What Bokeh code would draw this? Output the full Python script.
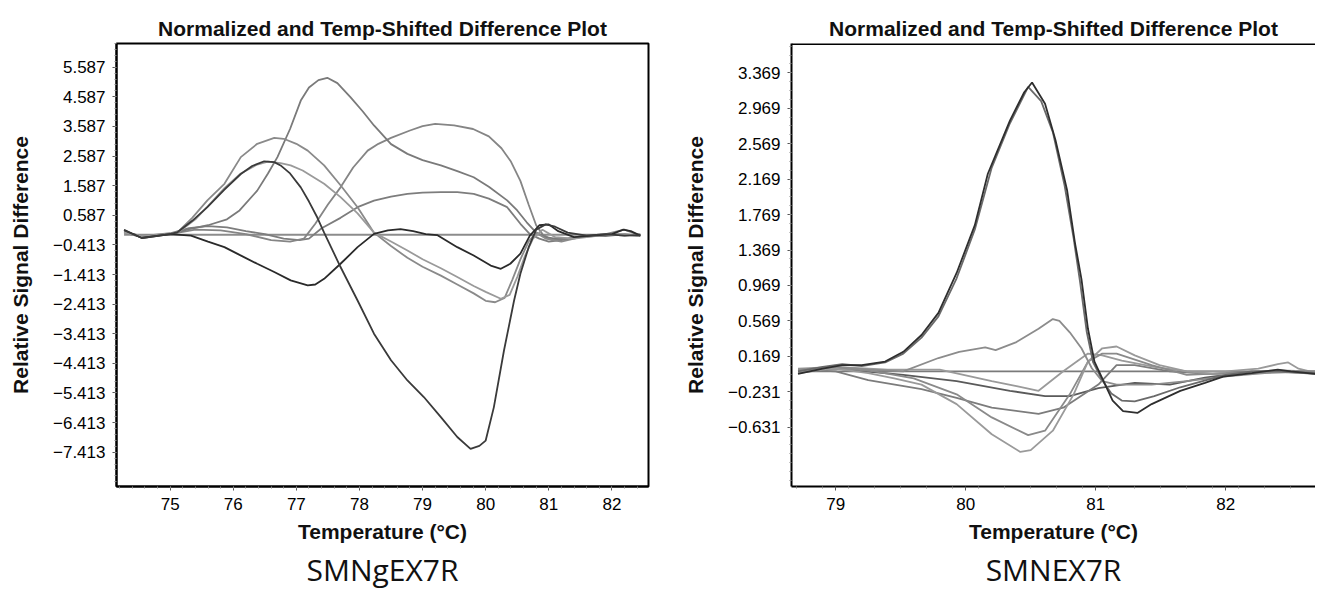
import numpy as np
from bokeh.plotting import figure
from bokeh.models import Range1d, FixedTicker, Title, CustomJSTickFormatter, Span
from bokeh.layouts import row
from bokeh.embed import file_html
from bokeh.resources import INLINE

# ---------------- data: SMNgEX7R (left) ----------------
L_base_x = [74.27, 82.45]
L_base_y = [-0.07, -0.07]

L_A_x = [74.27, 74.55, 75.0, 75.3, 75.6, 75.9, 76.1, 76.38, 76.55, 76.7, 76.9, 77.07, 77.2, 77.35, 77.49, 77.65, 77.86, 78.05, 78.23, 78.5, 78.76, 79.0, 79.29, 79.55, 79.81, 80.05, 80.34, 80.5, 80.65, 80.8, 80.95, 81.1, 81.3, 81.6, 81.9, 82.2, 82.45]
L_A_y = [0.0, -0.15, -0.05, 0.12, 0.25, 0.45, 0.75, 1.42, 2.0, 2.55, 3.5, 4.46, 4.9, 5.15, 5.23, 5.05, 4.57, 4.1, 3.62, 2.99, 2.66, 2.45, 2.27, 2.08, 1.87, 1.55, 1.09, 0.75, 0.35, 0.0, -0.15, -0.2, -0.2, -0.1, -0.12, -0.05, -0.1]

L_B_x = [74.27, 74.55, 75.0, 75.4, 75.8, 76.2, 76.6, 76.9, 77.12, 77.3, 77.5, 77.7, 77.9, 78.13, 78.3, 78.5, 78.8, 79.0, 79.2, 79.5, 79.8, 80.05, 80.25, 80.4, 80.55, 80.68, 80.8, 80.9, 81.05, 81.3, 81.6, 81.9, 82.2, 82.45]
L_B_y = [0.03, -0.12, -0.05, 0.1, 0.08, -0.05, -0.25, -0.3, -0.2, 0.3, 0.95, 1.53, 2.2, 2.77, 3.0, 3.2, 3.45, 3.6, 3.67, 3.62, 3.5, 3.25, 2.85, 2.4, 1.75, 0.95, 0.25, -0.05, -0.25, -0.2, -0.1, -0.05, 0.1, -0.1]

L_C_x = [74.27, 74.55, 75.0, 75.3, 75.6, 75.9, 76.2, 76.5, 76.8, 77.05, 77.2, 77.4, 77.7, 77.97, 78.23, 78.5, 78.76, 79.0, 79.29, 79.55, 79.81, 80.05, 80.34, 80.55, 80.7, 80.85, 81.0, 81.2, 81.5, 81.8, 82.1, 82.45]
L_C_y = [0.02, -0.12, -0.02, 0.15, 0.22, 0.18, 0.05, -0.05, -0.2, -0.25, -0.2, 0.15, 0.5, 0.86, 1.08, 1.22, 1.31, 1.35, 1.37, 1.37, 1.31, 1.15, 0.86, 0.3, -0.05, -0.2, -0.3, -0.25, -0.15, -0.1, -0.05, -0.12]

L_D_x = [74.27, 74.55, 75.0, 75.12, 75.35, 75.59, 75.86, 76.12, 76.38, 76.65, 76.8, 77.0, 77.18, 77.44, 77.7, 77.97, 78.23, 78.5, 78.76, 79.0, 79.29, 79.55, 79.81, 80.0, 80.15, 80.3, 80.42, 80.55, 80.68, 80.8, 80.95, 81.2, 81.5, 81.9, 82.2, 82.45]
L_D_y = [0.05, -0.15, -0.05, 0.02, 0.5, 1.09, 1.65, 2.55, 3.0, 3.2, 3.17, 3.0, 2.77, 2.27, 1.6, 0.86, 0.0, -0.45, -0.85, -1.15, -1.45, -1.75, -2.05, -2.3, -2.35, -2.2, -1.6, -0.9, -0.3, 0.0, -0.2, -0.3, -0.15, -0.05, -0.1, -0.05]

L_E_x = [74.27, 74.55, 75.0, 75.12, 75.35, 75.59, 75.86, 76.12, 76.3, 76.49, 76.65, 76.75, 76.9, 77.07, 77.2, 77.33, 77.44, 77.7, 77.97, 78.23, 78.5, 78.76, 79.02, 79.29, 79.55, 79.76, 79.9, 80.0, 80.13, 80.29, 80.45, 80.55, 80.68, 80.8, 80.95, 81.1, 81.3, 81.6, 81.9, 82.2, 82.45]
L_E_y = [0.08, -0.18, -0.05, 0.02, 0.4, 0.86, 1.45, 1.98, 2.25, 2.41, 2.38, 2.27, 2.0, 1.53, 1.05, 0.52, 0.0, -1.16, -2.29, -3.41, -4.31, -4.99, -5.55, -6.23, -6.9, -7.3, -7.2, -7.02, -5.89, -3.98, -2.29, -1.39, -0.5, 0.1, 0.28, 0.2, 0.0, -0.1, -0.05, -0.1, -0.08]

L_F_x = [74.27, 74.55, 75.0, 75.15, 75.4, 75.6, 75.86, 76.12, 76.38, 76.55, 76.75, 76.91, 77.1, 77.44, 77.7, 77.97, 78.23, 78.5, 78.76, 79.0, 79.29, 79.55, 79.81, 80.0, 80.24, 80.38, 80.5, 80.62, 80.75, 80.9, 81.1, 81.4, 81.8, 82.1, 82.45]
L_F_y = [0.0, -0.12, -0.05, 0.05, 0.45, 0.9, 1.5, 2.0, 2.3, 2.4, 2.35, 2.27, 2.1, 1.65, 1.2, 0.65, 0.0, -0.3, -0.6, -0.9, -1.2, -1.5, -1.8, -2.0, -2.23, -2.1, -1.5, -0.8, -0.2, 0.1, -0.15, -0.2, -0.1, -0.05, -0.1]

L_G_x = [74.27, 74.55, 75.0, 75.33, 75.6, 75.86, 76.1, 76.38, 76.65, 76.91, 77.18, 77.3, 77.44, 77.7, 77.97, 78.23, 78.45, 78.65, 78.85, 79.05, 79.23, 79.55, 79.81, 80.08, 80.24, 80.39, 80.55, 80.7, 80.85, 81.0, 81.15, 81.4, 81.7, 82.0, 82.18, 82.3, 82.45]
L_G_y = [0.1, -0.18, -0.05, -0.1, -0.3, -0.49, -0.75, -1.05, -1.33, -1.61, -1.78, -1.75, -1.56, -1.05, -0.49, -0.04, 0.08, 0.12, 0.05, -0.05, -0.08, -0.49, -0.77, -1.11, -1.22, -1.05, -0.71, -0.1, 0.25, 0.28, 0.05, -0.15, -0.1, -0.05, 0.1, 0.05, -0.1]

left_series = [
    (L_base_x, L_base_y, "#8c8c8c"),
    (L_C_x, L_C_y, "#7d7d7d"),
    (L_B_x, L_B_y, "#858585"),
    (L_A_x, L_A_y, "#7a7a7a"),
    (L_D_x, L_D_y, "#8a8a8a"),
    (L_F_x, L_F_y, "#9a9a9a"),
    (L_G_x, L_G_y, "#2a2a2a"),
    (L_E_x, L_E_y, "#3a3a3a"),
]

L_yticks = [5.587, 4.587, 3.587, 2.587, 1.587, 0.587, -0.413, -1.413, -2.413, -3.413, -4.413, -5.413, -6.413, -7.413]
L_ylabels = ["5.587", "4.587", "3.587", "2.587", "1.587", "0.587", "\u22120.413", "\u22121.413", "\u22122.413", "\u22123.413", "\u22124.413", "\u22125.413", "\u22126.413", "\u22127.413"]
L_xticks = [75, 76, 77, 78, 79, 80, 81, 82]
L_xlabels = ["75", "76", "77", "78", "79", "80", "81", "82"]

# ---------------- data: SMNEX7R (right) ----------------
R_base_x = [78.71, 82.7]
R_base_y = [0.0, 0.0]

R_P1_x = [78.71, 78.9, 79.05, 79.2, 79.38, 79.52, 79.66, 79.79, 79.93, 80.07, 80.17, 80.34, 80.45, 80.51, 80.61, 80.69, 80.78, 80.84, 80.89, 80.94, 80.99, 81.05, 81.13, 81.21, 81.32, 81.43, 81.65, 81.84, 81.98, 82.2, 82.4, 82.5, 82.7]
R_P1_y = [-0.03, 0.03, 0.07, 0.07, 0.11, 0.22, 0.41, 0.66, 1.11, 1.65, 2.23, 2.83, 3.15, 3.26, 3.02, 2.61, 2.04, 1.45, 1.04, 0.48, 0.11, -0.08, -0.33, -0.45, -0.47, -0.37, -0.22, -0.13, -0.06, -0.02, 0.02, 0.0, -0.03]

R_P2_x = [78.71, 78.9, 79.05, 79.2, 79.38, 79.52, 79.66, 79.79, 79.93, 80.07, 80.2, 80.34, 80.48, 80.58, 80.67, 80.76, 80.83, 80.88, 80.93, 80.98, 81.05, 81.12, 81.2, 81.3, 81.45, 81.65, 81.85, 82.0, 82.2, 82.4, 82.7]
R_P2_y = [0.0, 0.05, 0.08, 0.06, 0.1, 0.2, 0.38, 0.62, 1.05, 1.6, 2.3, 2.8, 3.21, 3.05, 2.7, 2.1, 1.5, 1.0, 0.45, 0.1, -0.1, -0.25, -0.33, -0.34, -0.28, -0.18, -0.1, -0.04, 0.0, 0.0, -0.02]

R_Q_x = [78.71, 79.0, 79.25, 79.52, 79.79, 79.95, 80.15, 80.23, 80.39, 80.56, 80.67, 80.72, 80.8, 80.89, 80.97, 81.05, 81.16, 81.43, 81.7, 81.98, 82.3, 82.7]
R_Q_y = [0.02, 0.05, 0.02, 0.0, 0.15, 0.22, 0.27, 0.24, 0.33, 0.48, 0.59, 0.57, 0.44, 0.26, 0.035, -0.11, -0.15, -0.15, -0.11, -0.06, -0.02, 0.0]

R_R1_x = [78.71, 79.0, 79.25, 79.45, 79.66, 79.93, 80.2, 80.42, 80.5, 80.67, 80.83, 80.94, 81.05, 81.16, 81.3, 81.49, 81.7, 81.98, 82.3, 82.7]
R_R1_y = [0.0, 0.03, -0.02, -0.08, -0.15, -0.37, -0.71, -0.91, -0.89, -0.67, -0.26, 0.11, 0.26, 0.28, 0.18, 0.07, 0.0, -0.04, 0.0, -0.02]

R_R2_x = [78.71, 79.0, 79.3, 79.6, 79.93, 80.2, 80.48, 80.61, 80.8, 80.94, 81.05, 81.16, 81.43, 81.7, 82.0, 82.4, 82.7]
R_R2_y = [-0.02, 0.04, 0.0, -0.08, -0.26, -0.52, -0.72, -0.67, -0.26, 0.11, 0.2, 0.2, 0.07, -0.04, -0.02, 0.01, 0.0]

R_R3_x = [78.71, 79.0, 79.25, 79.66, 79.93, 80.2, 80.56, 80.75, 81.02, 81.16, 81.3, 81.57, 81.9, 82.3, 82.7]
R_R3_y = [0.02, 0.0, -0.1, -0.2, -0.3, -0.41, -0.48, -0.41, -0.15, 0.07, 0.07, 0.0, -0.03, 0.0, -0.02]

R_R4_x = [78.71, 79.0, 79.52, 79.93, 80.34, 80.61, 80.8, 81.02, 81.3, 81.57, 81.84, 82.1, 82.4, 82.7]
R_R4_y = [0.0, 0.03, -0.04, -0.11, -0.22, -0.28, -0.28, -0.19, -0.13, -0.15, -0.07, -0.02, 0.0, -0.03]

R_R5_x = [78.71, 79.0, 79.4, 79.8, 80.2, 80.4, 80.56, 80.75, 80.94, 81.05, 81.2, 81.45, 81.7, 82.0, 82.25, 82.4, 82.48, 82.56, 82.7]
R_R5_y = [0.03, 0.05, 0.02, 0.02, -0.11, -0.17, -0.22, 0.0, 0.2, 0.18, 0.12, 0.05, 0.0, 0.0, 0.03, 0.08, 0.1, 0.03, -0.02]

right_series = [
    (R_base_x, R_base_y, "#7a7a7a"),
    (R_R4_x, R_R4_y, "#5a5a5a"),
    (R_R3_x, R_R3_y, "#7c7c7c"),
    (R_R5_x, R_R5_y, "#9a9a9a"),
    (R_R2_x, R_R2_y, "#8a8a8a"),
    (R_R1_x, R_R1_y, "#9a9a9a"),
    (R_Q_x, R_Q_y, "#8c8c8c"),
    (R_P2_x, R_P2_y, "#6a6a6a"),
    (R_P1_x, R_P1_y, "#2e2e2e"),
]

R_yticks = [3.369, 2.969, 2.569, 2.169, 1.769, 1.369, 0.969, 0.569, 0.169, -0.231, -0.631]
R_ylabels = ["3.369", "2.969", "2.569", "2.169", "1.769", "1.369", "0.969", "0.569", "0.169", "\u22120.231", "\u22120.631"]
R_xticks = [79, 80, 81, 82]
R_xlabels = ["79", "80", "81", "82"]

TITLE = "Normalized and Temp-Shifted Difference Plot"
XLABEL = "Temperature (\u00b0C)"
YLABEL = "Relative Signal Difference"

FONT = "Liberation Sans"

FMT_CODE = """
let best = 0; let bd = Infinity;
for (let i = 0; i < tv.length; i++) {
  const d = Math.abs(tv[i] - tick);
  if (d < bd) { bd = d; best = i; }
}
return tl[best];
"""


def style_axis(ax, ticks, labels, minor, standoff, label_standoff):
    ax.ticker = FixedTicker(ticks=ticks, minor_ticks=minor)
    ax.formatter = CustomJSTickFormatter(args=dict(tv=ticks, tl=labels), code=FMT_CODE)
    ax.major_label_text_font = FONT
    ax.major_label_text_font_size = "17px"
    ax.major_label_text_color = "black"
    ax.axis_label_text_font = FONT
    ax.axis_label_text_font_size = "21px"
    ax.axis_label_text_font_style = "bold"
    ax.axis_label_text_color = "#111111"
    ax.axis_line_color = "black"
    ax.axis_line_width = 2
    ax.major_tick_in = 0
    ax.major_tick_out = 4
    ax.major_tick_line_color = "#555555"
    ax.minor_tick_in = 0
    ax.minor_tick_out = 2
    ax.minor_tick_line_color = "#888888"
    ax.major_label_standoff = standoff
    ax.axis_label_standoff = label_standoff


def make_plot(series, xr, yr, xt, xl, yt, yl, xminor, yminor, width, height, borders, stand, name, outline_full):
    bl, br, bt, bb = borders
    s1, s2, s3 = stand
    p = figure(width=width, height=height, x_range=Range1d(*xr), y_range=Range1d(*yr),
               output_backend="svg", toolbar_location=None,
               min_border_left=bl, min_border_right=br, min_border_top=bt, min_border_bottom=bb,
               title=TITLE)
    p.xgrid.grid_line_color = None
    p.ygrid.grid_line_color = None
    p.background_fill_color = "white"
    p.border_fill_color = "white"
    if outline_full:
        p.outline_line_color = "black"
        p.outline_line_width = 2
    else:
        p.outline_line_color = None
        p.add_layout(Span(location=yr[1], dimension="width", line_color="black", line_width=3))
    p.title.align = "center"
    p.title.text_font = FONT
    p.title.text_font_size = "21px"
    p.title.text_font_style = "bold"
    p.title.text_color = "#111111"
    p.title.standoff = 8
    for xs, ys, c in series:
        p.line(xs, ys, line_color=c, line_width=1.8)
    style_axis(p.xaxis[0], xt, xl, xminor, s1, s2)
    style_axis(p.yaxis[0], yt, yl, yminor, 7, 18)
    p.xaxis[0].axis_label = XLABEL
    p.yaxis[0].axis_label = YLABEL
    p.add_layout(Title(text=name, align="center", text_font="Open Sans", text_font_size="30px",
                       text_font_style="normal", text_color="#111111", standoff=s3), "below")
    return p


L_xminor = [round(v, 2) for v in np.arange(74.2, 82.6, 0.2)]
L_yminor = [round(v, 3) for v in np.arange(-8.413, 6.5, 0.2)]
R_xminor = [round(v, 2) for v in np.arange(78.7, 82.7, 0.2)]
R_yminor = [round(v, 3) for v in np.arange(-1.231, 3.7, 0.1)]

p1 = make_plot(left_series, (74.15, 82.58), (-8.571, 6.387), L_xticks, L_xlabels, L_yticks, L_ylabels,
               L_xminor, L_yminor, 670, 592, (116, 22, 43, 106), (7, 7, 2), "SMNgEX7R", True)
p2 = make_plot(right_series, (78.66, 82.69), (-1.30, 3.70), R_xticks, R_xlabels, R_yticks, R_ylabels,
               R_xminor, R_yminor, 645, 592, (121, 0, 43, 106), (7, 7, 2), "SMNEX7R", False)

layout = row(p1, p2)
open("out.html", "w").write(file_html(layout, INLINE))
